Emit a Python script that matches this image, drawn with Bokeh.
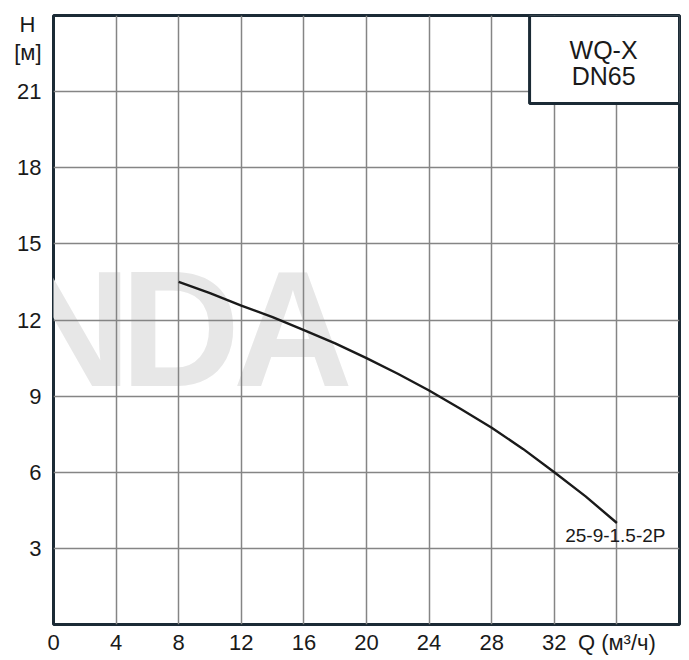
from bokeh.plotting import figure
from bokeh.models import Range1d, FixedTicker, Label, BoxAnnotation, ColumnDataSource
from bokeh.embed import file_html
from bokeh.resources import INLINE
from bokeh.core.properties import value

# ---- data ----
q_flow = [8, 10, 12, 14, 16, 18, 20, 22, 24, 26, 28, 30, 32, 34, 36]
h_head = [13.5, 13.06, 12.57, 12.11, 11.6, 11.08, 10.5, 9.88, 9.22, 8.5, 7.75, 6.92, 6.0, 5.05, 4.0]
curve_name = "25-9-1.5-2P"
x_ticks = [0, 4, 8, 12, 16, 20, 24, 28, 32, 36]
x_tick_labels = ["0", "4", "8", "12", "16", "20", "24", "28", "32", "Q (м³/ч)"]
x_grid = [4, 8, 12, 16, 20, 24, 28, 32, 36]
y_ticks = [3, 6, 9, 12, 15, 18, 21]
y_tick_labels = ["3", "6", "9", "12", "15", "18", "21"]
y_title = ["H\u00a0", "[м]"]
y_title_pos = [23.63, 22.56]
model_title = ["WQ-X", "DN65"]
watermark_letters = ["N", "D", "A"]
watermark_x = [1.15, 8.1, 15.3]

FONT = "Liberation Sans"
DARK = "#1b2a35"
TXT = "#1a1a1a"

p = figure(width=689, height=660, output_backend="svg", toolbar_location=None,
           x_range=Range1d(0, 40), y_range=Range1d(0, 24))
p.min_border_left = 53
p.min_border_right = 10
p.min_border_top = 15
p.min_border_bottom = 36
p.background_fill_color = "white"
p.border_fill_color = "white"
p.outline_line_color = DARK
p.outline_line_width = 3

# watermark (under the grid)
for letter, lx in zip(watermark_letters, watermark_x):
    p.add_layout(Label(x=lx, y=11.66, text=letter, text_align="center", text_baseline="alphabetic",
                       text_font=FONT, text_font_style="bold", text_font_size="166px",
                       text_color="#e7e7e7", level="image"))

# axes
all_y_ticks = y_ticks + y_title_pos
all_y_labels = y_tick_labels + y_title
p.xaxis.ticker = FixedTicker(ticks=x_ticks)
p.xaxis.major_label_overrides = {t: l for t, l in zip(x_ticks, x_tick_labels)}
p.yaxis.ticker = FixedTicker(ticks=all_y_ticks)
p.yaxis.major_label_overrides = {t: l for t, l in zip(all_y_ticks, all_y_labels)}
for ax in (p.xaxis, p.yaxis):
    ax.axis_line_color = None
    ax.major_tick_line_color = None
    ax.minor_tick_line_color = None
    ax.major_tick_out = 0
    ax.major_tick_in = 0
    ax.minor_tick_out = 0
    ax.minor_tick_in = 0
    ax.major_label_text_font = FONT
    ax.major_label_text_font_size = "22px"
    ax.major_label_text_color = TXT
p.xaxis.major_label_standoff = 5
p.yaxis.major_label_standoff = 12

p.xgrid.ticker = FixedTicker(ticks=x_grid)
p.ygrid.ticker = FixedTicker(ticks=y_ticks)
for g in (p.xgrid, p.ygrid):
    g.grid_line_color = "#858585"
    g.grid_line_width = 1.5

# curve
src = ColumnDataSource(dict(q=q_flow, h=h_head))
p.line("q", "h", source=src, line_color="#1a1a1a", line_width=2.4, line_join="round")
p.text(x=[q_flow[-1] - 0.1], y=[h_head[-1] - 0.5], text=[curve_name], text_align="center",
       text_baseline="middle", text_font=value(FONT), text_font_size="19px", text_color=TXT)

# model box
box = BoxAnnotation(left=30.42, right=40, bottom=20.53, top=24, fill_color="white", fill_alpha=1.0,
                    line_color=DARK, line_alpha=1.0, line_width=3, level="overlay")
p.add_layout(box)
p.add_layout(Label(x=35.15, y=22.65, text=model_title[0], text_align="center", text_baseline="middle",
                   text_font=FONT, text_font_size="25px", text_color=TXT, level="overlay"))
p.add_layout(Label(x=35.15, y=21.62, text=model_title[1], text_align="center", text_baseline="middle",
                   text_font=FONT, text_font_size="25px", text_color=TXT, level="overlay"))

open("out.html", "w").write(file_html(p, INLINE))
